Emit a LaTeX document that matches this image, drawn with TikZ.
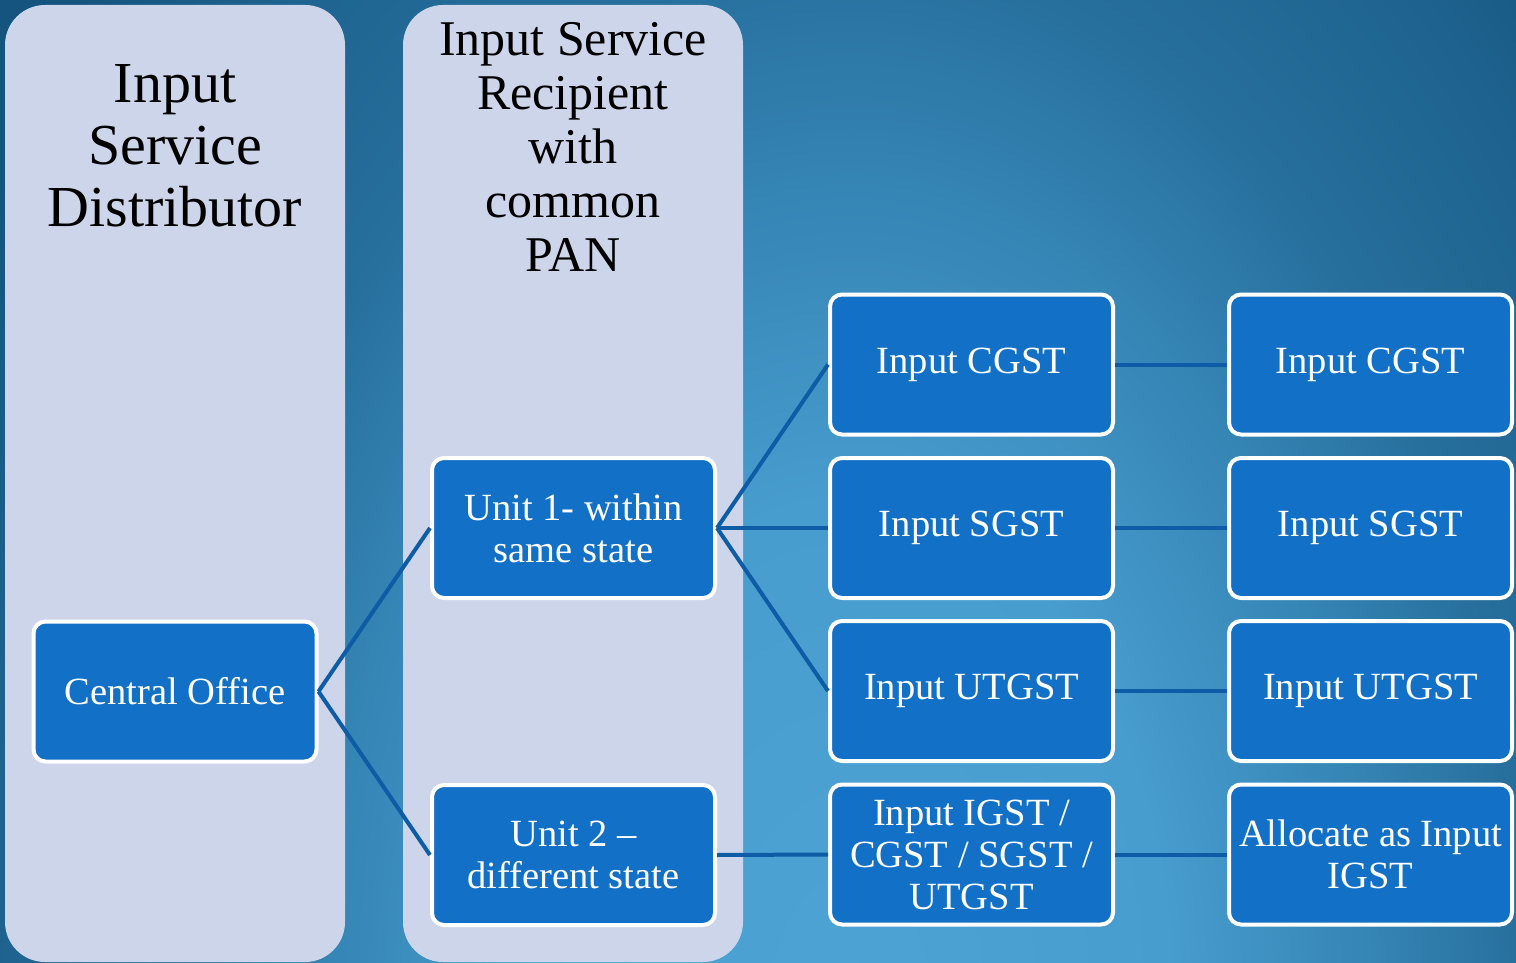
\documentclass[tikz,border=0pt]{standalone}
\usepackage{fontspec}
\setmainfont{Liberation Serif}
\definecolor{colbg}{HTML}{CDD5EA}
\definecolor{boxblue}{HTML}{1270C6}
\definecolor{connblue}{HTML}{0E5BA6}
\definecolor{bg0}{HTML}{4CA3D4}
\definecolor{bg1}{HTML}{479DCE}
\definecolor{bg2}{HTML}{3585B5}
\definecolor{bg3}{HTML}{266E9C}
\definecolor{bg4}{HTML}{1F6491}
\definecolor{bg5}{HTML}{15547F}
\pgfdeclareradialshading{bgshade}{\pgfpoint{0bp}{0bp}}{color(0bp)=(bg0); color(8bp)=(bg1); color(13bp)=(bg2); color(17bp)=(bg3); color(21bp)=(bg4); color(25bp)=(bg5); color(50bp)=(bg5)}
\begin{document}
\begin{tikzpicture}[x=1pt,y=-1pt,
  box/.style={draw=white, line width=4pt, fill=boxblue, rounded corners=12pt,
    minimum width=283pt, minimum height=140pt, text=white, inner sep=0pt,
    font=\fontsize{38.5}{42}\selectfont, align=center},
  conn/.style={draw=connblue, line width=4pt},
  coltitle/.style={anchor=north, inner sep=0pt, align=center, text=black},
  colpanel/.style={fill=colbg, rounded corners=40pt}]
\useasboundingbox (0,0) rectangle (1516,963);
\begin{scope}
  \clip (0,0) rectangle (1516,963);
  \fill[bg5] (0,0) rectangle (1516,963);
  \shade[shading=bgshade] (850,1000) ellipse (1000 and 1560);
  \fill[colpanel] (5,5) rectangle (345,962);
  \fill[colpanel] (403,5) rectangle (743,962);
\end{scope}
\node[coltitle, font=\fontsize{58}{62}\selectfont] (t1) at (175,64) {Input\\Service\\Distributor};
\node[coltitle, font=\fontsize{50}{54}\selectfont] (t2) at (573,22) {Input Service\\Recipient\\with\\common\\PAN};

\node[box] (co) at (175,691.5) {Central Office};
\node[box] (u1) at (573.5,528) {Unit 1- within\\same state};
\node[box] (u2) at (573.5,855) {Unit 2 --\\different state};

\node[box] (c1) at (971.5,364.5) {Input CGST};
\node[box] (c2) at (971.5,528) {Input SGST};
\node[box] (c3) at (971.5,691) {Input UTGST};
\node[box] (c4) at (971.5,854.5) {Input IGST /\\CGST / SGST /\\UTGST};

\node[box] (d1) at (1370.5,364.5) {Input CGST};
\node[box] (d2) at (1370.5,528) {Input SGST};
\node[box] (d3) at (1370.5,691) {Input UTGST};
\node[box] (d4) at (1370.5,854.5) {Allocate as Input\\IGST};

\draw[conn] (co.east) -- (u1.west);
\draw[conn] (co.east) -- (u2.west);
\draw[conn] (u1.east) -- (c1.west);
\draw[conn] (u1.east) -- (c2.west);
\draw[conn] (u1.east) -- (c3.west);
\draw[conn] (u2.east) -- (c4.west);
\draw[conn] (c1.east) -- (d1.west);
\draw[conn] (c2.east) -- (d2.west);
\draw[conn] (c3.east) -- (d3.west);
\draw[conn] (c4.east) -- (d4.west);
\end{tikzpicture}
\end{document}
